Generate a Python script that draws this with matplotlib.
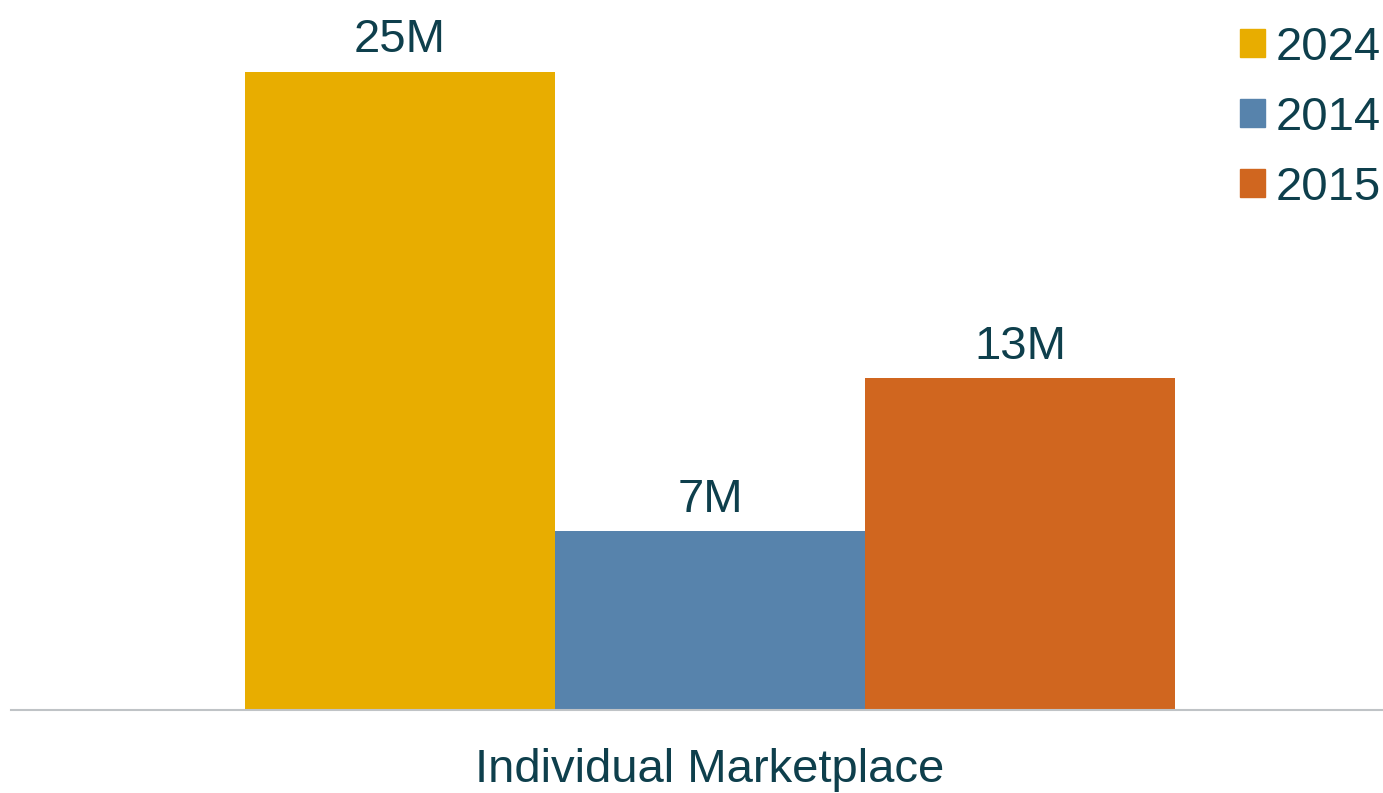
import matplotlib.pyplot as plt
from matplotlib.patches import Patch

plt.rcParams['font.family'] = ['Liberation Sans', 'DejaVu Sans']

# data
series = ["2024", "2014", "2015"]
values = [25, 7, 13]
labels = ["25M", "7M", "13M"]
colors = ["#E8AD00", "#5783AC", "#D0661F"]
category = "Individual Marketplace"

text_color = "#0E3F4C"

fig = plt.figure(figsize=(13.83, 7.93), dpi=100)
ax = fig.add_axes([11 / 1383, 83 / 793, 1 - 11 / 1383, 1 - 83 / 793])

pos = list(range(len(values)))
bars = ax.bar(pos, values, width=1.0, color=colors)
for b, lab in zip(bars, labels):
    ax.annotate(lab, (b.get_x() + b.get_width() / 2, b.get_height()),
                xytext=(0, 7), textcoords="offset points",
                ha="center", va="bottom", fontsize=34, color=text_color)

ax.set_xlim(-1.2548, 3.171)
ax.set_ylim(0, 27.82)
ax.set_xticks([1])
ax.set_xticklabels([category], fontsize=34, color=text_color)
ax.tick_params(axis="x", length=0, pad=27)
ax.set_yticks([])
for s in ["top", "right", "left"]:
    ax.spines[s].set_visible(False)
ax.spines["bottom"].set_color("#BFC3C6")
ax.spines["bottom"].set_linewidth(1.5)

handles = [Patch(color=c) for c in colors]
leg = fig.legend(handles, series, loc="upper right", bbox_to_anchor=(1.019, 1.003),
                 frameon=False, fontsize=34, handlelength=0.53, handleheight=0.53,
                 handletextpad=0.22, labelspacing=0.55, borderaxespad=0.2)
for t in leg.get_texts():
    t.set_color(text_color)

fig.savefig("out.png", dpi=100)
